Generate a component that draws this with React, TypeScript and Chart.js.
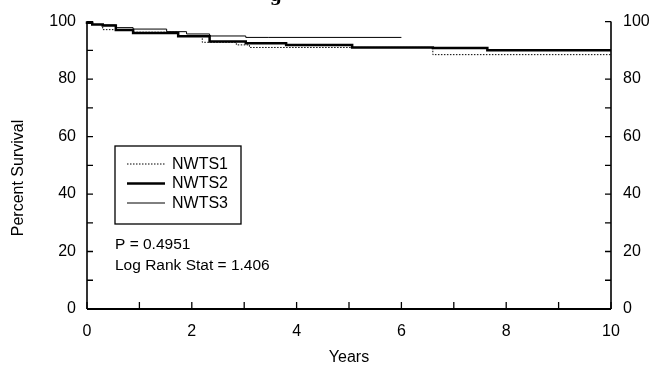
import { useEffect, useRef } from "react";
import { Chart, registerables } from "chart.js";

Chart.register(...registerables);

const FONT = '"Liberation Sans", Arial, Helvetica, sans-serif';

// Kaplan-Meier survival curves (years, percent surviving)
const nwts1Years = [0, 0.1, 0.3, 0.88, 1.74, 2.2, 2.85, 3.1, 6.6, 7.64, 10];
const nwts1Surv = [100, 99.6, 99.0, 97.2, 96.3, 95.0, 92.8, 91.9, 91.0, 88.5, 88.5];

const nwts2Years = [0, 0.1, 0.3, 0.55, 0.88, 1.74, 2.34, 3.03, 3.8, 5.06, 6.6, 7.64, 9.95, 10];
const nwts2Surv = [100, 99.6, 99.0, 98.6, 97.1, 96.0, 94.9, 93.1, 92.5, 91.9, 91.0, 90.8, 90.0, 90.0];

const nwts3Years = [0, 0.1, 0.3, 0.55, 0.88, 1.52, 1.9, 2.34, 3.03, 3.47, 6.0];
const nwts3Surv = [100, 99.6, 99.0, 98.8, 97.9, 97.4, 96.5, 95.7, 95.0, 94.5, 94.5];

const seriesNames = ["NWTS1", "NWTS2", "NWTS3"];
const xMinorTicks = [0, 1, 2, 3, 4, 5, 6, 7, 8, 9, 10];
const yMinorTicks = [0, 10, 20, 30, 40, 50, 60, 70, 80, 90, 100];
const statLines = ["P = 0.4951", "Log Rank Stat = 1.406"];
const yAxisTitle = "Percent Survival";
const titleFragment = "g";

const toPoints = (xs: number[], ys: number[]) => xs.map((x, i) => ({ x, y: ys[i] }));

const overlay = {
  id: "overlay",
  afterDraw(chart: any) {
    const { ctx, chartArea, scales } = chart;
    const { left, right, top, bottom } = chartArea;
    const x = scales.x;
    const y = scales.y;
    ctx.save();
    ctx.strokeStyle = "#000";
    ctx.fillStyle = "#000";
    ctx.setLineDash([]);
    // frame (no top line)
    ctx.lineWidth = 1.6;
    ctx.beginPath();
    ctx.moveTo(left, top);
    ctx.lineTo(left, bottom);
    ctx.stroke();
    ctx.beginPath();
    ctx.moveTo(right, top);
    ctx.lineTo(right, bottom);
    ctx.stroke();
    ctx.lineWidth = 2;
    ctx.beginPath();
    ctx.moveTo(left, bottom);
    ctx.lineTo(right, bottom);
    ctx.stroke();
    // inward ticks
    ctx.lineWidth = 1.3;
    xMinorTicks.forEach((v) => {
      const px = x.getPixelForValue(v);
      ctx.beginPath();
      ctx.moveTo(px, bottom);
      ctx.lineTo(px, bottom - 7);
      ctx.stroke();
    });
    yMinorTicks.forEach((v) => {
      const py = y.getPixelForValue(v);
      ctx.beginPath();
      ctx.moveTo(left, py);
      ctx.lineTo(left + 6, py);
      ctx.moveTo(right, py);
      ctx.lineTo(right - 6, py);
      ctx.stroke();
    });
    // legend box
    ctx.lineWidth = 1.3;
    ctx.strokeRect(115, 146, 126, 78);
    const styles = [
      { w: 1, dash: [1.5, 1.5] },
      { w: 2.5, dash: [] as number[] },
      { w: 1, dash: [] as number[] },
    ];
    ctx.font = `16px ${FONT}`;
    ctx.textBaseline = "middle";
    ctx.textAlign = "left";
    seriesNames.forEach((name, i) => {
      const yy = 164 + i * 19.5;
      ctx.lineWidth = styles[i].w;
      ctx.setLineDash(styles[i].dash);
      ctx.beginPath();
      ctx.moveTo(127, yy);
      ctx.lineTo(165, yy);
      ctx.stroke();
      ctx.setLineDash([]);
      ctx.fillText(name, 172, yy + 0.5);
    });
    // statistics text
    ctx.font = `15.5px ${FONT}`;
    statLines.forEach((t, i) => {
      ctx.fillText(t, 115, 245 + i * 20.5);
    });
    // y axis title
    ctx.save();
    ctx.translate(19, 178);
    ctx.rotate(-Math.PI / 2);
    ctx.textAlign = "center";
    ctx.font = `16px ${FONT}`;
    ctx.fillText(yAxisTitle, 0, 0);
    ctx.restore();
    // cropped title fragment
    ctx.font = `bold 17px "DejaVu Serif", serif`;
    ctx.textBaseline = "alphabetic";
    ctx.fillText(titleFragment, 270, 0.5);
    ctx.restore();
  },
};

export default function App() {
  const ref = useRef<HTMLCanvasElement | null>(null);
  useEffect(() => {
    document.body.style.margin = "0";
    const canvas = ref.current;
    if (!canvas) return;
    const tickFont = { family: FONT, size: 16 };
    const chart = new Chart(canvas, {
      type: "line",
      data: {
        datasets: [
          {
            label: seriesNames[0],
            data: toPoints(nwts1Years, nwts1Surv),
            borderColor: "#000",
            borderWidth: 1,
            borderDash: [1.5, 1.5],
            stepped: "after",
            pointRadius: 0,
            fill: false,
            clip: 6,
          },
          {
            label: seriesNames[1],
            data: toPoints(nwts2Years, nwts2Surv),
            borderColor: "#000",
            borderWidth: 2.5,
            stepped: "after",
            pointRadius: 0,
            fill: false,
            clip: 6,
          },
          {
            label: seriesNames[2],
            data: toPoints(nwts3Years, nwts3Surv),
            borderColor: "#000",
            borderWidth: 1,
            stepped: "after",
            pointRadius: 0,
            fill: false,
            clip: 6,
          },
        ],
      },
      options: {
        responsive: false,
        animation: false,
        layout: { padding: { top: 19, left: 0, right: 0, bottom: 0 } },
        plugins: { legend: { display: false }, tooltip: { enabled: false } },
        scales: {
          x: {
            type: "linear",
            min: 0,
            max: 10,
            grid: { display: false, drawTicks: false },
            border: { display: false },
            ticks: { stepSize: 2, padding: 13, color: "#000", font: tickFont, maxRotation: 0 },
            title: {
              display: true,
              text: "Years",
              color: "#000",
              font: { family: FONT, size: 16 },
              padding: { top: 0, bottom: -1 },
            },
            afterFit: (s: any) => {
              s.height = 57;
            },
          },
          y: {
            position: "left",
            min: 0,
            max: 100,
            grid: { display: false, drawTicks: false },
            border: { display: false },
            ticks: { stepSize: 20, padding: 11, color: "#000", font: tickFont },
            afterFit: (s: any) => {
              s.width = 87;
            },
          },
          y2: {
            position: "right",
            min: 0,
            max: 100,
            grid: { display: false, drawTicks: false },
            border: { display: false },
            ticks: { stepSize: 20, padding: 12, color: "#000", font: tickFont },
            afterFit: (s: any) => {
              s.width = 43;
            },
          },
        },
      },
      plugins: [overlay],
    });
    return () => chart.destroy();
  }, []);
  return (
    <div style={{ width: 654, height: 366, background: "#fff" }}>
      <canvas ref={ref} width={654} height={366} style={{ display: "block" }} />
    </div>
  );
}
